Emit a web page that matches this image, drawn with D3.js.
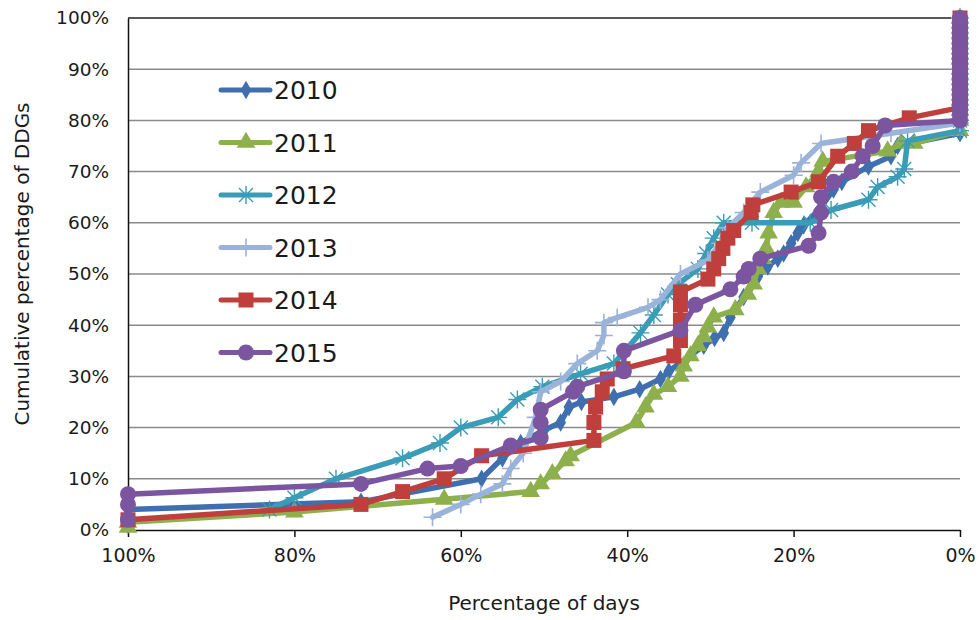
<!DOCTYPE html>
<html><head><meta charset="utf-8">
<script src="https://cdn.jsdelivr.net/npm/d3@7"></script>
<style>body{margin:0;background:#fff}svg{display:block}text{font-family:"DejaVu Sans",sans-serif;fill:#1a1a1a}</style>
</head><body>
<script>
const years = ["2010","2011","2012","2013","2014","2015"];
const colors = ["#3F6FAE","#8DB04D","#3A9CB6","#9AB3D9","#BE3F3B","#7B559F"];
const yTicks = [0,10,20,30,40,50,60,70,80,90,100];
const xTicks = [100,80,60,40,20,0];
const topStack = [81,82,83,84,85,86,87,88,89,90,91,92,93,94,95,96,97,98,99,100];
// [percentage of days, cumulative percentage of DDGs]
const s2010 = [[100,1],[100,4],[72,5.5],[57.5,10],[55,14],[52.8,17],[50,19.5],[48,21],[47,24],[45.5,25],[41.6,26],[38.5,27.5],[36,29.5],[35,31],[30.8,36],[29.5,37.5],[28.4,38.5],[27.6,41.5],[26,45.5],[24.3,49.5],[23.1,51.5],[21.9,53],[21.2,54],[20.3,56],[19.5,58],[18.8,59.5],[16.7,63],[15.2,66.5],[14.2,68],[11,71],[8.3,73],[7.5,75],[0,77.5],[0,80]];
const s2011 = [[100,0.5],[100,1.5],[80,3.5],[62,6],[51.6,7.5],[50.4,9],[49,11],[47.4,13.5],[46.8,14.5],[38.9,21],[37.8,24],[36.8,26.5],[35.1,28],[33.6,30],[33.2,32],[32.4,34],[31.5,36],[30.8,37.7],[30.3,39.6],[29.6,41.6],[27,43],[25.5,46],[24.8,48],[24.3,51],[23.7,53],[23.3,55],[23,58],[22.4,62],[21.5,64],[20,64],[18.5,67],[17,70],[16.5,72],[8.7,74],[7.1,75.5],[5.5,75.5],[0,78],[0,80]];
const s2012 = [[83,4],[80,6.3],[75,10],[67,14],[62.5,17],[60,20],[55.5,22],[53.2,25.5],[50.2,28],[45.6,30.5],[41.6,32.5],[38.4,38.5],[36.8,42],[35.1,46],[33.9,48],[31.5,51],[30.5,54],[29.6,57],[28.4,60],[25,60],[18,60],[15.5,62.5],[11,64.5],[9.9,67],[7.5,69],[6.7,70.5],[6.3,76],[0,78],[0,80]];
const s2013 = [[63.4,2.5],[60,5],[57.6,7],[55,9],[54,12],[52.5,15],[51,22],[50.4,27],[48,29],[46,32.5],[43.6,35],[42.8,38],[42.8,40.5],[41.2,41.5],[37.5,43.5],[36,45],[33.6,50],[30.3,52.7],[28.8,56],[27.9,59],[26,62],[24,66],[20,69.3],[19.1,71.7],[16.7,75.5],[8.3,77.5],[0,79.5]];
const s2014 = [[100,2],[72,5],[67,7.5],[62,10],[57.5,14.5],[44,17.5],[44,21],[43.8,24],[43,27],[42.4,29.5],[40.5,31.5],[34.4,34],[33.6,37],[33.6,41],[33.6,44],[33.6,46.5],[30.3,49],[29.6,51],[29,53],[28.5,55],[27.9,57],[27.2,58.5],[25.1,62],[24.9,63.5],[20.3,66],[17,68],[14.7,73],[12.7,75.5],[11,78],[6.1,80.5],[0,82.5]];
const s2015 = [[100,2],[100,5],[100,7],[72,9],[64,12],[60,12.5],[54,16.5],[50.4,18],[50.4,21],[50.4,23.5],[46.5,27],[46,28],[40.4,31],[40.4,35],[33.6,39],[31.8,44],[27.6,47],[26,49.5],[25.4,51],[24,53],[18.2,55.5],[17,58],[16.7,62],[16.7,65],[15.2,68],[13,70],[11.7,73],[10.5,75],[9,79],[0,80]];
const seriesData = [s2010,s2011,s2012,s2013,s2014,s2015];
const markers = ["diamond","triangle","asterisk","plus","square","circle"];

const W=979,H=620, m={l:128,r:19,t:18,b:90};
const svg=d3.select("body").append("svg").attr("width",W).attr("height",H);
const x=d3.scaleLinear().domain([100,0]).range([m.l,W-m.r]);
const y=d3.scaleLinear().domain([0,100]).range([H-m.b,m.t]);

// gridlines
svg.append("g").selectAll("line").data(yTicks.filter(d=>d>0)).join("line")
 .attr("x1",m.l).attr("x2",W-m.r).attr("y1",d=>y(d)).attr("y2",d=>y(d))
 .attr("stroke",d=>d===100?"#222":"#8a8a8a").attr("stroke-width",1.5);

// axes
const ya=svg.append("g").attr("transform",`translate(${m.l},0)`)
 .call(d3.axisLeft(y).tickValues(yTicks).tickFormat(d=>d+"%").tickSize(0).tickPadding(19));
ya.select(".domain").attr("stroke","#111").attr("stroke-width",1.5);
ya.selectAll("text").style("font-size","18.5px").style("font-family","DejaVu Sans");
const xa=svg.append("g").attr("transform",`translate(0,${H-m.b})`)
 .call(d3.axisBottom(x).tickValues(xTicks).tickFormat(d=>d+"%").tickSize(7).tickSizeOuter(0).tickPadding(12));
xa.select(".domain").attr("stroke","#111").attr("stroke-width",1.5);
xa.selectAll("line").attr("stroke","#111").attr("stroke-width",1.5);
xa.selectAll("text").style("font-size","19px").style("font-family","DejaVu Sans");

svg.append("text").attr("x",(m.l+W-m.r)/2).attr("y",610).attr("text-anchor","middle")
 .style("font-size","20px").text("Percentage of days");
svg.append("text").attr("transform",`translate(29,${(m.t+H-m.b)/2-10}) rotate(-90)`).attr("text-anchor","middle")
 .style("font-size","20px").text("Cumulative percentage of DDGs");

function drawMarker(g,type,color){
  if(type==="diamond") g.append("path").attr("d",d3.symbol(d3.symbolDiamond,100)()).attr("fill",color);
  else if(type==="triangle") g.append("path").attr("d",d3.symbol(d3.symbolTriangle,150)()).attr("fill",color);
  else if(type==="square") g.append("rect").attr("x",-7.5).attr("y",-7.5).attr("width",15).attr("height",15).attr("fill",color);
  else if(type==="circle") g.append("circle").attr("r",8).attr("fill",color);
  else if(type==="plus") g.append("path").attr("d","M-9,0H9M0,-9V9").attr("stroke",color).attr("stroke-width",1.6);
  else if(type==="asterisk") g.append("path").attr("d","M-9,0H9M0,-9V9M-7,-7L7,7M-7,7L7,-7").attr("stroke",color).attr("stroke-width",1.4);
}

const line=d3.line().x(d=>x(d[0])).y(d=>y(d[1]));
seriesData.forEach((s,i)=>{
  const pts = s.concat(topStack.filter(v=>v>s[s.length-1][1]).map(v=>[0,v]));
  const g=svg.append("g");
  g.append("path").datum(pts).attr("d",line).attr("fill","none").attr("stroke",colors[i])
   .attr("stroke-width",5.5).attr("stroke-linejoin","round").attr("stroke-linecap","round");
  g.selectAll("g.mk").data(pts).join("g").attr("class","mk")
   .attr("transform",d=>`translate(${x(d[0])},${y(d[1])})`)
   .each(function(){drawMarker(d3.select(this),markers[i],colors[i]);});
});

// legend
const lg=svg.append("g");
years.forEach((yr,i)=>{
  const cy=90+i*52.5;
  const g=lg.append("g").attr("transform",`translate(0,${cy})`);
  g.append("line").attr("x1",221).attr("x2",270).attr("stroke",colors[i]).attr("stroke-width",5).attr("stroke-linecap","round");
  const mg=g.append("g").attr("transform","translate(246,0)");
  drawMarker(mg,markers[i],colors[i]);
  g.append("text").attr("x",274).attr("y",9).style("font-size","25px").text(yr);
});
</script>
</body></html>
